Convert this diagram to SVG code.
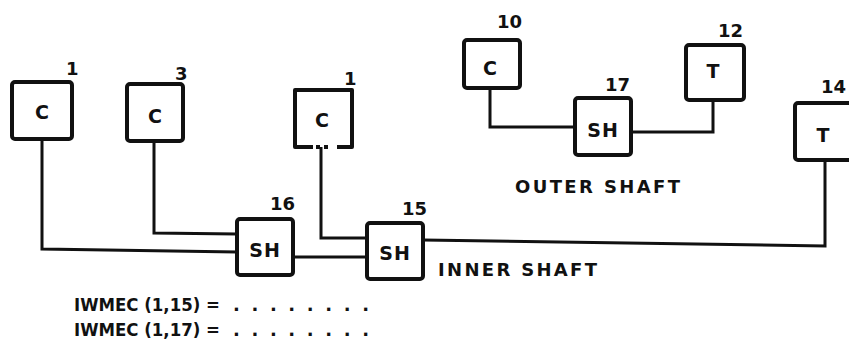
<svg xmlns="http://www.w3.org/2000/svg" width="849" height="356" viewBox="0 0 849 356">
<style>
.box{fill:#fff;stroke:#111;stroke-width:4;stroke-linejoin:round}
.wire{fill:none;stroke:#111;stroke-width:3;stroke-linejoin:miter}
.t{font-family:"DejaVu Sans","Liberation Sans",Arial,sans-serif;font-weight:bold;fill:#111}
.in{font-size:19px;text-anchor:middle}
.num{font-size:18px}
.lab{font-size:18px}
</style>
<rect width="849" height="356" fill="#fff"/>
<g id="connectors">
<polyline class="wire" points="42,139 42,249 237,252"/>
<polyline class="wire" points="154,141 154,233 237,234"/>
<line class="wire" x1="293" y1="257" x2="367" y2="257"/>
<polyline class="wire" points="321,147 321,238 367,238"/>
<polyline class="wire" points="423,240 825,246 825,160"/>
<polyline class="wire" points="490,88 490,127 575,127"/>
<polyline class="wire" points="631,132 713,132 713,100"/>
</g>
<g id="n-c1">
<rect class="box" x="12" y="82" width="60" height="57" rx="3"/>
<text class="t in" x="42" y="119">C</text>
<text class="t num" x="66" y="75">1</text>
</g>
<g id="n-c3">
<rect class="box" x="127" y="84" width="56" height="57" rx="3"/>
<text class="t in" x="155" y="123">C</text>
<text class="t num" x="175" y="80">3</text>
</g>
<g id="n-c1b">
<path class="box" d="M313,147 H295 V90 H352 V147 H337"/>
<path class="box" d="M316,147 h4 M324,147 h4" stroke-width="3"/>
<text class="t in" x="322" y="127">C</text>
<text class="t num" x="344" y="85">1</text>
</g>
<g id="n-sh16">
<rect class="box" x="237" y="219" width="56" height="56" rx="3"/>
<text class="t in" x="265" y="257" letter-spacing="1">SH</text>
<text class="t num" x="270" y="210">16</text>
</g>
<g id="n-sh15">
<rect class="box" x="367" y="223" width="56" height="56" rx="3"/>
<text class="t in" x="395" y="260" letter-spacing="1">SH</text>
<text class="t num" x="402" y="215">15</text>
</g>
<g id="n-c10">
<rect class="box" x="464" y="40" width="56" height="48" rx="3"/>
<text class="t in" x="490" y="75">C</text>
<text class="t num" x="497" y="28">10</text>
</g>
<g id="n-sh17">
<rect class="box" x="575" y="98" width="56" height="57" rx="3"/>
<text class="t in" x="603" y="137" letter-spacing="1">SH</text>
<text class="t num" x="605" y="91">17</text>
</g>
<g id="n-t12">
<rect class="box" x="686" y="45" width="58" height="55" rx="3"/>
<text class="t in" x="713" y="78">T</text>
<text class="t num" x="718" y="37">12</text>
</g>
<g id="n-t14">
<rect class="box" x="795" y="103" width="58" height="57" rx="3"/>
<text class="t in" x="823" y="142">T</text>
<text class="t num" x="821" y="93">14</text>
</g>
<g id="labels">
<text class="t lab" x="515" y="193" textLength="165" lengthAdjust="spacing">OUTER SHAFT</text>
<text class="t lab" x="438" y="276" textLength="159" lengthAdjust="spacing">INNER SHAFT</text>
<text class="t lab" x="74" y="311" textLength="146" lengthAdjust="spacingAndGlyphs">IWMEC (1,15) =</text>
<text class="t lab" x="233" y="311" textLength="136" lengthAdjust="spacing">. . . . . . . .</text>
<text class="t lab" x="74" y="336" textLength="146" lengthAdjust="spacingAndGlyphs">IWMEC (1,17) =</text>
<text class="t lab" x="233" y="336" textLength="136" lengthAdjust="spacing">. . . . . . . .</text>
</g>
</svg>
